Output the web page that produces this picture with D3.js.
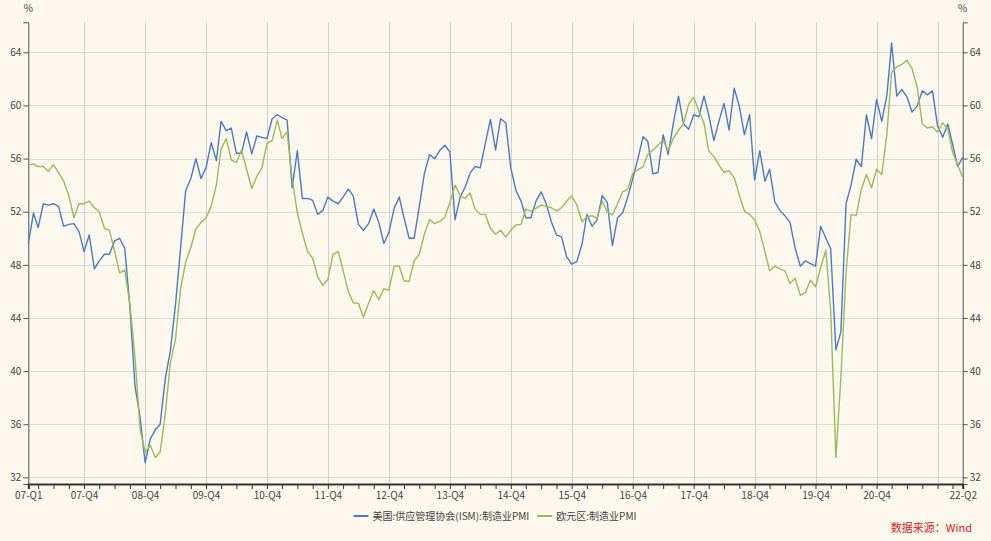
<!DOCTYPE html>
<html>
<head>
<meta charset="utf-8">
<script src="https://cdn.jsdelivr.net/npm/d3@7"></script>
<style>
    body { margin: 0; background: #fdf8ee; }
    svg { display: block; font-family: "Noto Sans CJK SC", "Noto Sans", sans-serif; }
    .tickText { font-size: 10px; fill: #444; }
    .legendText { font-size: 10px; fill: #444; }
</style>
</head>
<body>
<script>
// PMI chart: US ISM vs Eurozone manufacturing PMI, monthly 2007-01 .. 2022-05
(function(){

    //series names
    var seriesNames = ["美国:供应管理协会(ISM):制造业PMI", "欧元区:制造业PMI"];

    //first month of the series
    var startMonth = [2007, 0];

    //US ISM manufacturing PMI, one value per month
    var usPMI = [
        49.6, 51.9, 50.8, 52.6, 52.5, 52.6, 52.4, 50.9, 51.05, 51.1, 50.5, 49.0,
        50.25, 47.7, 48.3, 48.8, 48.8, 49.8, 50.0, 49.25, 44.8, 38.9, 36.5, 33.1,
        34.9, 35.6, 36.0, 39.45, 41.5, 45.0, 49.2, 53.6, 54.5, 56.0, 54.5, 55.3,
        57.2, 55.85, 58.8, 58.1, 58.3, 56.4, 56.4, 58.0, 56.35, 57.7, 57.6, 57.5,
        59.0, 59.3, 59.1, 58.9, 53.8, 56.6, 53.0, 53.0, 52.85, 51.8, 52.1, 53.1,
        52.8, 52.6, 53.1, 53.7, 53.2, 51.05, 50.6, 51.1, 52.2, 51.2, 49.6, 50.45,
        52.25, 53.1, 51.55, 50.0, 50.0, 52.4, 54.85, 56.3, 56.0, 56.6, 57.0, 56.5,
        51.4, 53.1, 53.8, 54.9, 55.4, 55.3, 57.1, 58.95, 56.65, 59.0, 58.7, 55.3,
        53.6, 52.8, 51.55, 51.55, 52.8, 53.5, 52.6, 51.25, 50.25, 50.1, 48.6, 48.05,
        48.25, 49.55, 51.8, 50.9, 51.4, 53.2, 52.7, 49.45, 51.55, 51.9, 53.1, 54.5,
        56.0, 57.65, 57.3, 54.85, 54.95, 57.8, 56.3, 58.65, 60.7, 58.6, 58.2, 59.3,
        59.15, 60.7, 59.3, 57.35, 58.8, 60.15, 58.15, 61.3, 59.9, 57.8, 59.3, 54.4,
        56.6, 54.3, 55.2, 52.75, 52.1, 51.7, 51.2, 49.25, 47.9, 48.3, 48.1, 47.9,
        50.9, 50.0, 49.2, 41.6, 42.95, 52.6, 54.0, 55.95, 55.4, 59.3, 57.5, 60.45,
        58.8, 60.8, 64.7, 60.7, 61.2, 60.65, 59.5, 59.95, 61.1, 60.8, 61.1, 58.5,
        57.6, 58.6, 57.1, 55.4, 56.1
    ];

    //Eurozone manufacturing PMI, one value per month
    var euPMI = [
        55.5, 55.6, 55.4, 55.4, 55.05, 55.55, 54.95, 54.3, 53.2, 51.55, 52.6, 52.6,
        52.8, 52.3, 52.0, 50.75, 50.6, 49.05, 47.4, 47.6, 45.0, 41.1, 35.6, 33.9,
        34.4, 33.5, 33.9, 36.8, 40.6, 42.4, 46.2, 48.2, 49.3, 50.7, 51.2, 51.55,
        52.4, 54.05, 56.7, 57.5, 55.9, 55.7, 56.65, 55.2, 53.75, 54.65, 55.3, 57.15,
        57.35, 58.9, 57.5, 58.0, 54.5, 51.9, 50.4, 49.0, 48.5, 47.1, 46.45, 46.9,
        48.8, 49.0, 47.6, 46.0, 45.15, 45.1, 44.05, 45.1, 46.05, 45.4, 46.2, 46.1,
        47.9, 47.9, 46.8, 46.75, 48.3, 48.8, 50.3, 51.4, 51.1, 51.25, 51.6, 52.7,
        54.0, 53.2, 53.0, 53.4, 52.2, 51.8, 51.8, 50.75, 50.3, 50.6, 50.1, 50.6,
        51.0, 51.05, 52.2, 52.05, 52.25, 52.5, 52.4, 52.3, 52.05, 52.3, 52.8, 53.2,
        52.5, 51.25, 51.6, 51.7, 51.5, 52.8, 52.0, 51.75, 52.6, 53.5, 53.7, 54.9,
        55.15, 55.4, 56.3, 56.65, 57.0, 57.4, 56.6, 57.5, 58.15, 58.6, 60.1, 60.6,
        59.6, 58.65, 56.6, 56.15, 55.5, 54.95, 55.1, 54.55, 53.25, 52.05, 51.8, 51.4,
        50.5, 49.0, 47.55, 47.9, 47.7, 47.55, 46.6, 47.0, 45.7, 45.9, 46.85, 46.35,
        47.8, 49.1, 44.5, 33.5, 39.5, 47.4, 51.8, 51.7, 53.7, 54.8, 53.8, 55.2,
        54.8, 57.9, 62.5, 62.9, 63.1, 63.4, 62.8, 61.4, 58.6, 58.3, 58.4, 58.0,
        58.7, 58.2, 56.5, 55.5, 54.6
    ];

    //y axis tick values
    var yTicks = [32, 36, 40, 44, 48, 52, 56, 60, 64];

    //labelled quarters on the x axis: [year, month (0-11), label]
    var xLabels = [
        [2007, 0, "07-Q1"], [2007, 11, "07-Q4"], [2008, 11, "08-Q4"], [2009, 11, "09-Q4"],
        [2010, 11, "10-Q4"], [2011, 11, "11-Q4"], [2012, 11, "12-Q4"], [2013, 11, "13-Q4"],
        [2014, 11, "14-Q4"], [2015, 11, "15-Q4"], [2016, 11, "16-Q4"], [2017, 11, "17-Q4"],
        [2018, 11, "18-Q4"], [2019, 11, "19-Q4"], [2020, 11, "20-Q4"], [2022, 4, "22-Q2"]
    ];

    var colors = ["#4a7bc6", "#9bbb59"];

    window.onload = setChart();

    function setChart(){

        //frame dimensions
        var width = 991,
            height = 541,
            left = 28.3,
            right = 962.7,
            top = 22.3,
            bottom = 484;

        var svg = d3.select("body")
            .append("svg")
            .attr("width", width)
            .attr("height", height);

        svg.append("rect")
            .attr("width", width)
            .attr("height", height)
            .attr("fill", "#fdf8ee");

        //build month dates
        var dates = usPMI.map(function(d, i){
            return new Date(startMonth[0], startMonth[1] + i, 1);
        });

        var xScale = d3.scaleTime()
            .domain([dates[0], dates[dates.length - 1]])
            .range([left, right]);

        var yScale = d3.scaleLinear()
            .domain([31.5, 66.26])
            .range([bottom, top]);

        //horizontal grid lines
        svg.selectAll(".hGrid")
            .data(yTicks)
            .enter()
            .append("line")
            .attr("class", "hGrid")
            .attr("x1", left)
            .attr("x2", right)
            .attr("y1", function(d){ return Math.round(yScale(d)) + 0.5; })
            .attr("y2", function(d){ return Math.round(yScale(d)) + 0.5; })
            .attr("stroke", "#e2ddd4")
            .attr("stroke-width", 1);

        //vertical grid lines at every Q4 (and 21-Q4)
        var gridDates = d3.range(2007, 2022).map(function(y){
            return new Date(y, 11, 1);
        });
        svg.selectAll(".vGrid")
            .data(gridDates)
            .enter()
            .append("line")
            .attr("class", "vGrid")
            .attr("x1", function(d){ return Math.round(xScale(d)) + 0.5; })
            .attr("x2", function(d){ return Math.round(xScale(d)) + 0.5; })
            .attr("y1", top)
            .attr("y2", bottom)
            .attr("stroke", "#d2d0cc")
            .attr("stroke-width", 1);

        //left axis
        var yAxisLeft = d3.axisLeft(yScale)
            .tickValues(yTicks)
            .tickSize(5)
            .tickPadding(2);

        var axisL = svg.append("g")
            .attr("transform", "translate(" + left + ",0)")
            .call(yAxisLeft);
        styleAxis(axisL);

        //right axis
        var yAxisRight = d3.axisRight(yScale)
            .tickValues(yTicks)
            .tickSize(5)
            .tickPadding(2);

        var axisR = svg.append("g")
            .attr("transform", "translate(" + right + ",0)")
            .call(yAxisRight);
        styleAxis(axisR);

        //bottom axis: quarterly ticks
        var quarterTicks = d3.range(2, usPMI.length, 3).map(function(i){ return dates[i]; });
        quarterTicks.unshift(dates[0]);
        quarterTicks.push(dates[dates.length - 1]);

        var labelMap = {};
        xLabels.forEach(function(l){
            labelMap[new Date(l[0], l[1], 1).getTime()] = l[2];
        });

        var xAxis = d3.axisBottom(xScale)
            .tickValues(quarterTicks)
            .tickSize(5)
            .tickPadding(3)
            .tickFormat(function(d){
                return labelMap[d.getTime()] || "";
            });

        var axisB = svg.append("g")
            .attr("transform", "translate(0," + bottom + ")")
            .call(xAxis);
        axisB.select(".domain")
            .attr("stroke", "#333")
            .attr("stroke-width", 2);
        axisB.selectAll(".tick line")
            .attr("stroke", "#333");
        axisB.selectAll(".tick text")
            .attr("class", "tickText")
            .style("font-family", null);
        axisB.attr("font-family", null).attr("font-size", null);

        //% labels
        svg.append("text")
            .attr("class", "tickText")
            .attr("x", left)
            .attr("y", 12)
            .attr("text-anchor", "middle")
            .text("%");
        svg.append("text")
            .attr("class", "tickText")
            .attr("x", right)
            .attr("y", 12)
            .attr("text-anchor", "middle")
            .text("%");

        //lines
        var lineGen = d3.line()
            .x(function(d, i){ return xScale(dates[i]); })
            .y(function(d){ return yScale(d); });

        [usPMI, euPMI].forEach(function(series, k){
            svg.append("path")
                .datum(series)
                .attr("fill", "none")
                .attr("stroke", colors[k])
                .attr("stroke-width", 1.4)
                .attr("stroke-linejoin", "round")
                .attr("d", lineGen);
        });

        //legend: items laid out by measured text width, centred
        var legend = svg.append("g");
        var cursor = 0;
        seriesNames.forEach(function(name, k){
            var g = legend.append("g")
                .attr("transform", "translate(" + cursor + ",0)");
            g.append("line")
                .attr("x1", 0)
                .attr("x2", 15)
                .attr("stroke", colors[k])
                .attr("stroke-width", 2);
            var t = g.append("text")
                .attr("class", "legendText")
                .attr("x", 19)
                .attr("y", 3.5)
                .text(name);
            cursor += 19 + t.node().getComputedTextLength() + 8;
        });
        var legendWidth = cursor - 8;
        legend.attr("transform", "translate(" + (495 - legendWidth / 2) + ",516)");

        //source
        svg.append("text")
            .attr("x", 972)
            .attr("y", 532)
            .attr("text-anchor", "end")
            .attr("fill", "#e02020")
            .style("font-size", "11px")
            .text("数据来源：Wind");

    }; // end of setChart

    function styleAxis(axis){
        axis.select(".domain")
            .attr("stroke", "#555")
            .attr("stroke-width", 1);
        axis.selectAll(".tick line")
            .attr("stroke", "#555");
        axis.selectAll(".tick text")
            .attr("class", "tickText")
            .style("font-family", null);
        axis.attr("font-family", null).attr("font-size", null);
    };

})();
</script>
</body>
</html>
